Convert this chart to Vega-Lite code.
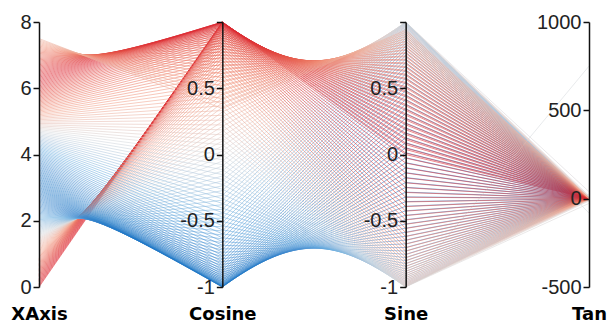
{
"$schema": "https://vega.github.io/schema/vega-lite/v6.json",
"width": 550, "height": 265,
"autosize": {"type": "none"},
"padding": {"left": 39, "top": 22, "right": 21, "bottom": 40},
"background": "white",
"config": {"view": {"stroke": null}, "axis": {"grid": false}},
"data": {"values": [
{"XAxis":0,"Cosine":1,"Sine":0,"Tan":0.5},
{"XAxis":0.0377,"Cosine":0.9993,"Sine":0.0377,"Tan":0.538},
{"XAxis":0.0754,"Cosine":0.9972,"Sine":0.0753,"Tan":0.576},
{"XAxis":0.1131,"Cosine":0.9936,"Sine":0.1128,"Tan":0.614},
{"XAxis":0.1508,"Cosine":0.9887,"Sine":0.1502,"Tan":0.652},
{"XAxis":0.1884,"Cosine":0.9823,"Sine":0.1873,"Tan":0.691},
{"XAxis":0.2261,"Cosine":0.9745,"Sine":0.2242,"Tan":0.730},
{"XAxis":0.2638,"Cosine":0.9654,"Sine":0.2608,"Tan":0.770},
{"XAxis":0.3015,"Cosine":0.9549,"Sine":0.2970,"Tan":0.811},
{"XAxis":0.3392,"Cosine":0.9430,"Sine":0.3327,"Tan":0.853},
{"XAxis":0.3769,"Cosine":0.9298,"Sine":0.3680,"Tan":0.896},
{"XAxis":0.4146,"Cosine":0.9153,"Sine":0.4028,"Tan":0.940},
{"XAxis":0.4523,"Cosine":0.8995,"Sine":0.4370,"Tan":0.986},
{"XAxis":0.4899,"Cosine":0.8824,"Sine":0.4706,"Tan":1.033},
{"XAxis":0.5276,"Cosine":0.8640,"Sine":0.5035,"Tan":1.083},
{"XAxis":0.5653,"Cosine":0.8444,"Sine":0.5357,"Tan":1.134},
{"XAxis":0.6030,"Cosine":0.8236,"Sine":0.5671,"Tan":1.189},
{"XAxis":0.6407,"Cosine":0.8017,"Sine":0.5978,"Tan":1.246},
{"XAxis":0.6784,"Cosine":0.7786,"Sine":0.6275,"Tan":1.306},
{"XAxis":0.7161,"Cosine":0.7544,"Sine":0.6564,"Tan":1.370},
{"XAxis":0.7538,"Cosine":0.7291,"Sine":0.6844,"Tan":1.439},
{"XAxis":0.7915,"Cosine":0.7028,"Sine":0.7114,"Tan":1.512},
{"XAxis":0.8291,"Cosine":0.6755,"Sine":0.7374,"Tan":1.592},
{"XAxis":0.8668,"Cosine":0.6472,"Sine":0.7623,"Tan":1.678},
{"XAxis":0.9045,"Cosine":0.6181,"Sine":0.7861,"Tan":1.772},
{"XAxis":0.9422,"Cosine":0.5880,"Sine":0.8089,"Tan":1.876},
{"XAxis":0.9799,"Cosine":0.5571,"Sine":0.8304,"Tan":1.991},
{"XAxis":1.0176,"Cosine":0.5254,"Sine":0.8508,"Tan":2.119},
{"XAxis":1.0553,"Cosine":0.4930,"Sine":0.8700,"Tan":2.265},
{"XAxis":1.0930,"Cosine":0.4599,"Sine":0.8880,"Tan":2.431},
{"XAxis":1.1307,"Cosine":0.4261,"Sine":0.9047,"Tan":2.623},
{"XAxis":1.1683,"Cosine":0.3917,"Sine":0.9201,"Tan":2.849},
{"XAxis":1.2060,"Cosine":0.3567,"Sine":0.9342,"Tan":3.119},
{"XAxis":1.2437,"Cosine":0.3213,"Sine":0.9470,"Tan":3.448},
{"XAxis":1.2814,"Cosine":0.2854,"Sine":0.9584,"Tan":3.859},
{"XAxis":1.3191,"Cosine":0.2491,"Sine":0.9685,"Tan":4.389},
{"XAxis":1.3568,"Cosine":0.2124,"Sine":0.9772,"Tan":5.101},
{"XAxis":1.3945,"Cosine":0.1754,"Sine":0.9845,"Tan":6.112},
{"XAxis":1.4322,"Cosine":0.1382,"Sine":0.9904,"Tan":7.667},
{"XAxis":1.4698,"Cosine":0.1008,"Sine":0.9949,"Tan":10.37},
{"XAxis":1.5075,"Cosine":0.0632,"Sine":0.9980,"Tan":16.29},
{"XAxis":1.5452,"Cosine":0.0256,"Sine":0.9997,"Tan":39.60},
{"XAxis":1.5829,"Cosine":-0.0121,"Sine":0.9999,"Tan":-82.01},
{"XAxis":1.6206,"Cosine":-0.0498,"Sine":0.9988,"Tan":-19.56},
{"XAxis":1.6583,"Cosine":-0.0874,"Sine":0.9962,"Tan":-10.90},
{"XAxis":1.6960,"Cosine":-0.1249,"Sine":0.9922,"Tan":-7.446},
{"XAxis":1.7337,"Cosine":-0.1622,"Sine":0.9868,"Tan":-5.585},
{"XAxis":1.7714,"Cosine":-0.1992,"Sine":0.9800,"Tan":-4.419},
{"XAxis":1.8090,"Cosine":-0.2360,"Sine":0.9718,"Tan":-3.618},
{"XAxis":1.8467,"Cosine":-0.2725,"Sine":0.9622,"Tan":-3.036},
{"XAxis":1.8844,"Cosine":-0.3085,"Sine":0.9512,"Tan":-2.593},
{"XAxis":1.9221,"Cosine":-0.3441,"Sine":0.9389,"Tan":-2.237},
{"XAxis":1.9598,"Cosine":-0.3793,"Sine":0.9253,"Tan":-1.951},
{"XAxis":1.9975,"Cosine":-0.4139,"Sine":0.9103,"Tan":-1.705},
{"XAxis":2.0352,"Cosine":-0.4479,"Sine":0.8941,"Tan":-1.505},
{"XAxis":2.0729,"Cosine":-0.4812,"Sine":0.8766,"Tan":-1.322},
{"XAxis":2.1106,"Cosine":-0.5139,"Sine":0.8578,"Tan":-1.169},
{"XAxis":2.1482,"Cosine":-0.5459,"Sine":0.8379,"Tan":-1.035},
{"XAxis":2.1859,"Cosine":-0.5771,"Sine":0.8167,"Tan":-0.915},
{"XAxis":2.2236,"Cosine":-0.6074,"Sine":0.7944,"Tan":-0.808},
{"XAxis":2.2613,"Cosine":-0.6369,"Sine":0.7709,"Tan":-0.710},
{"XAxis":2.2990,"Cosine":-0.6655,"Sine":0.7464,"Tan":-0.621},
{"XAxis":2.3367,"Cosine":-0.6932,"Sine":0.7208,"Tan":-0.540},
{"XAxis":2.3744,"Cosine":-0.7199,"Sine":0.6941,"Tan":-0.464},
{"XAxis":2.4121,"Cosine":-0.7455,"Sine":0.6665,"Tan":-0.394},
{"XAxis":2.4497,"Cosine":-0.7701,"Sine":0.6380,"Tan":-0.328},
{"XAxis":2.4874,"Cosine":-0.7936,"Sine":0.6085,"Tan":-0.267},
{"XAxis":2.5251,"Cosine":-0.8159,"Sine":0.5782,"Tan":-0.209},
{"XAxis":2.5628,"Cosine":-0.8371,"Sine":0.5470,"Tan":-0.153},
{"XAxis":2.6005,"Cosine":-0.8572,"Sine":0.5151,"Tan":-0.101},
{"XAxis":2.6382,"Cosine":-0.8760,"Sine":0.4824,"Tan":-0.051},
{"XAxis":2.6759,"Cosine":-0.8935,"Sine":0.4491,"Tan":-0.003},
{"XAxis":2.7136,"Cosine":-0.9098,"Sine":0.4151,"Tan":0.044},
{"XAxis":2.7513,"Cosine":-0.9248,"Sine":0.3805,"Tan":0.089},
{"XAxis":2.7889,"Cosine":-0.9385,"Sine":0.3454,"Tan":0.132},
{"XAxis":2.8266,"Cosine":-0.9508,"Sine":0.3098,"Tan":0.174},
{"XAxis":2.8643,"Cosine":-0.9618,"Sine":0.2737,"Tan":0.215},
{"XAxis":2.9020,"Cosine":-0.9714,"Sine":0.2373,"Tan":0.256},
{"XAxis":2.9397,"Cosine":-0.9797,"Sine":0.2005,"Tan":0.295},
{"XAxis":2.9774,"Cosine":-0.9866,"Sine":0.1635,"Tan":0.334},
{"XAxis":3.0151,"Cosine":-0.9920,"Sine":0.1262,"Tan":0.373},
{"XAxis":3.0528,"Cosine":-0.9961,"Sine":0.0887,"Tan":0.411},
{"XAxis":3.0905,"Cosine":-0.9987,"Sine":0.0511,"Tan":0.449},
{"XAxis":3.1281,"Cosine":-0.9999,"Sine":0.0135,"Tan":0.487},
{"XAxis":3.1658,"Cosine":-0.9997,"Sine":-0.0242,"Tan":0.524},
{"XAxis":3.2035,"Cosine":-0.9981,"Sine":-0.0619,"Tan":0.562},
{"XAxis":3.2412,"Cosine":-0.9950,"Sine":-0.0995,"Tan":0.600},
{"XAxis":3.2789,"Cosine":-0.9906,"Sine":-0.1369,"Tan":0.638},
{"XAxis":3.3166,"Cosine":-0.9847,"Sine":-0.1741,"Tan":0.677},
{"XAxis":3.3543,"Cosine":-0.9775,"Sine":-0.2111,"Tan":0.716},
{"XAxis":3.3920,"Cosine":-0.9688,"Sine":-0.2478,"Tan":0.756},
{"XAxis":3.4296,"Cosine":-0.9588,"Sine":-0.2841,"Tan":0.796},
{"XAxis":3.4673,"Cosine":-0.9474,"Sine":-0.3200,"Tan":0.838},
{"XAxis":3.5050,"Cosine":-0.9347,"Sine":-0.3555,"Tan":0.880},
{"XAxis":3.5427,"Cosine":-0.9206,"Sine":-0.3905,"Tan":0.924},
{"XAxis":3.5804,"Cosine":-0.9053,"Sine":-0.4249,"Tan":0.969},
{"XAxis":3.6181,"Cosine":-0.8886,"Sine":-0.4587,"Tan":1.016},
{"XAxis":3.6558,"Cosine":-0.8707,"Sine":-0.4918,"Tan":1.065},
{"XAxis":3.6935,"Cosine":-0.8515,"Sine":-0.5243,"Tan":1.116},
{"XAxis":3.7312,"Cosine":-0.8312,"Sine":-0.5560,"Tan":1.169},
{"XAxis":3.7688,"Cosine":-0.8097,"Sine":-0.5869,"Tan":1.225},
{"XAxis":3.8065,"Cosine":-0.7870,"Sine":-0.6170,"Tan":1.284},
{"XAxis":3.8442,"Cosine":-0.7632,"Sine":-0.6462,"Tan":1.347},
{"XAxis":3.8819,"Cosine":-0.7383,"Sine":-0.6745,"Tan":1.414},
{"XAxis":3.9196,"Cosine":-0.7123,"Sine":-0.7019,"Tan":1.485},
{"XAxis":3.9573,"Cosine":-0.6854,"Sine":-0.7282,"Tan":1.563},
{"XAxis":3.9950,"Cosine":-0.6574,"Sine":-0.7535,"Tan":1.646},
{"XAxis":4.0327,"Cosine":-0.6286,"Sine":-0.7778,"Tan":1.737},
{"XAxis":4.0704,"Cosine":-0.5988,"Sine":-0.8009,"Tan":1.837},
{"XAxis":4.1080,"Cosine":-0.5682,"Sine":-0.8229,"Tan":1.948},
{"XAxis":4.1457,"Cosine":-0.5368,"Sine":-0.8437,"Tan":2.072},
{"XAxis":4.1834,"Cosine":-0.5047,"Sine":-0.8633,"Tan":2.211},
{"XAxis":4.2211,"Cosine":-0.4718,"Sine":-0.8817,"Tan":2.369},
{"XAxis":4.2588,"Cosine":-0.4382,"Sine":-0.8989,"Tan":2.551},
{"XAxis":4.2965,"Cosine":-0.4040,"Sine":-0.9148,"Tan":2.764},
{"XAxis":4.3342,"Cosine":-0.3693,"Sine":-0.9293,"Tan":3.017},
{"XAxis":4.3719,"Cosine":-0.3340,"Sine":-0.9426,"Tan":3.322},
{"XAxis":4.4095,"Cosine":-0.2982,"Sine":-0.9545,"Tan":3.701},
{"XAxis":4.4472,"Cosine":-0.2621,"Sine":-0.9651,"Tan":4.183},
{"XAxis":4.4849,"Cosine":-0.2255,"Sine":-0.9742,"Tan":4.820},
{"XAxis":4.5226,"Cosine":-0.1886,"Sine":-0.9821,"Tan":5.706},
{"XAxis":4.5603,"Cosine":-0.1515,"Sine":-0.9885,"Tan":7.024},
{"XAxis":4.5980,"Cosine":-0.1142,"Sine":-0.9935,"Tan":9.203},
{"XAxis":4.6357,"Cosine":-0.0766,"Sine":-0.9971,"Tan":13.51},
{"XAxis":4.6734,"Cosine":-0.0390,"Sine":-0.9992,"Tan":26.11},
{"XAxis":4.7111,"Cosine":-0.0013,"Sine":-1.0,"Tan":750.3},
{"XAxis":4.7487,"Cosine":0.0363,"Sine":-0.9993,"Tan":-26.99},
{"XAxis":4.7864,"Cosine":0.0740,"Sine":-0.9973,"Tan":-12.98},
{"XAxis":4.8241,"Cosine":0.1115,"Sine":-0.9938,"Tan":-8.413},
{"XAxis":4.8618,"Cosine":0.1489,"Sine":-0.9889,"Tan":-6.143},
{"XAxis":4.8995,"Cosine":0.1860,"Sine":-0.9826,"Tan":-4.782},
{"XAxis":4.9372,"Cosine":0.2229,"Sine":-0.9748,"Tan":-3.873},
{"XAxis":4.9749,"Cosine":0.2595,"Sine":-0.9658,"Tan":-3.222},
{"XAxis":5.0126,"Cosine":0.2957,"Sine":-0.9553,"Tan":-2.731},
{"XAxis":5.0503,"Cosine":0.3315,"Sine":-0.9435,"Tan":-2.346},
{"XAxis":5.0879,"Cosine":0.3668,"Sine":-0.9303,"Tan":-2.036},
{"XAxis":5.1256,"Cosine":0.4016,"Sine":-0.9158,"Tan":-1.781},
{"XAxis":5.1633,"Cosine":0.4358,"Sine":-0.9000,"Tan":-1.565},
{"XAxis":5.2010,"Cosine":0.4694,"Sine":-0.8830,"Tan":-1.381},
{"XAxis":5.2387,"Cosine":0.5023,"Sine":-0.8647,"Tan":-1.221},
{"XAxis":5.2764,"Cosine":0.5346,"Sine":-0.8451,"Tan":-1.081},
{"XAxis":5.3141,"Cosine":0.5660,"Sine":-0.8244,"Tan":-0.956},
{"XAxis":5.3518,"Cosine":0.5967,"Sine":-0.8025,"Tan":-0.845},
{"XAxis":5.3894,"Cosine":0.6265,"Sine":-0.7794,"Tan":-0.744},
{"XAxis":5.4271,"Cosine":0.6554,"Sine":-0.7553,"Tan":-0.652},
{"XAxis":5.4648,"Cosine":0.6834,"Sine":-0.7300,"Tan":-0.568},
{"XAxis":5.5025,"Cosine":0.7104,"Sine":-0.7038,"Tan":-0.491},
{"XAxis":5.5402,"Cosine":0.7365,"Sine":-0.6765,"Tan":-0.419},
{"XAxis":5.5779,"Cosine":0.7614,"Sine":-0.6483,"Tan":-0.351},
{"XAxis":5.6156,"Cosine":0.7853,"Sine":-0.6191,"Tan":-0.288},
{"XAxis":5.6533,"Cosine":0.8081,"Sine":-0.5891,"Tan":-0.229},
{"XAxis":5.6910,"Cosine":0.8297,"Sine":-0.5582,"Tan":-0.173},
{"XAxis":5.7286,"Cosine":0.8501,"Sine":-0.5266,"Tan":-0.119},
{"XAxis":5.7663,"Cosine":0.8694,"Sine":-0.4942,"Tan":-0.068},
{"XAxis":5.8040,"Cosine":0.8874,"Sine":-0.4610,"Tan":-0.020},
{"XAxis":5.8417,"Cosine":0.9041,"Sine":-0.4273,"Tan":0.027},
{"XAxis":5.8794,"Cosine":0.9196,"Sine":-0.3929,"Tan":0.073},
{"XAxis":5.9171,"Cosine":0.9337,"Sine":-0.3580,"Tan":0.117},
{"XAxis":5.9548,"Cosine":0.9466,"Sine":-0.3225,"Tan":0.159},
{"XAxis":5.9925,"Cosine":0.9580,"Sine":-0.2867,"Tan":0.201},
{"XAxis":6.0302,"Cosine":0.9682,"Sine":-0.2503,"Tan":0.241},
{"XAxis":6.0678,"Cosine":0.9769,"Sine":-0.2137,"Tan":0.281},
{"XAxis":6.1055,"Cosine":0.9843,"Sine":-0.1767,"Tan":0.320},
{"XAxis":6.1432,"Cosine":0.9902,"Sine":-0.1395,"Tan":0.359},
{"XAxis":6.1809,"Cosine":0.9948,"Sine":-0.1021,"Tan":0.397},
{"XAxis":6.2186,"Cosine":0.9979,"Sine":-0.0646,"Tan":0.435},
{"XAxis":6.2563,"Cosine":0.9996,"Sine":-0.0269,"Tan":0.473},
{"XAxis":6.2940,"Cosine":0.9999,"Sine":0.0108,"Tan":0.511},
{"XAxis":6.3317,"Cosine":0.9988,"Sine":0.0485,"Tan":0.549},
{"XAxis":6.3693,"Cosine":0.9963,"Sine":0.0861,"Tan":0.586},
{"XAxis":6.4070,"Cosine":0.9923,"Sine":0.1235,"Tan":0.624},
{"XAxis":6.4447,"Cosine":0.9870,"Sine":0.1608,"Tan":0.663},
{"XAxis":6.4824,"Cosine":0.9802,"Sine":0.1979,"Tan":0.702},
{"XAxis":6.5201,"Cosine":0.9721,"Sine":0.2347,"Tan":0.741},
{"XAxis":6.5578,"Cosine":0.9625,"Sine":0.2712,"Tan":0.782},
{"XAxis":6.5955,"Cosine":0.9516,"Sine":0.3072,"Tan":0.823},
{"XAxis":6.6332,"Cosine":0.9394,"Sine":0.3429,"Tan":0.865},
{"XAxis":6.6709,"Cosine":0.9258,"Sine":0.3780,"Tan":0.908},
{"XAxis":6.7085,"Cosine":0.9109,"Sine":0.4126,"Tan":0.953},
{"XAxis":6.7462,"Cosine":0.8947,"Sine":0.4467,"Tan":0.999},
{"XAxis":6.7839,"Cosine":0.8772,"Sine":0.4801,"Tan":1.047},
{"XAxis":6.8216,"Cosine":0.8585,"Sine":0.5128,"Tan":1.097},
{"XAxis":6.8593,"Cosine":0.8386,"Sine":0.5448,"Tan":1.150},
{"XAxis":6.8970,"Cosine":0.8175,"Sine":0.5760,"Tan":1.205},
{"XAxis":6.9347,"Cosine":0.7952,"Sine":0.6064,"Tan":1.263},
{"XAxis":6.9724,"Cosine":0.7718,"Sine":0.6359,"Tan":1.324},
{"XAxis":7.0101,"Cosine":0.7473,"Sine":0.6645,"Tan":1.389},
{"XAxis":7.0477,"Cosine":0.7217,"Sine":0.6922,"Tan":1.459},
{"XAxis":7.0854,"Cosine":0.6951,"Sine":0.7189,"Tan":1.534},
{"XAxis":7.1231,"Cosine":0.6675,"Sine":0.7446,"Tan":1.615},
{"XAxis":7.1608,"Cosine":0.6390,"Sine":0.7692,"Tan":1.704},
{"XAxis":7.1985,"Cosine":0.6096,"Sine":0.7928,"Tan":1.801},
{"XAxis":7.2362,"Cosine":0.5792,"Sine":0.8152,"Tan":1.907},
{"XAxis":7.2739,"Cosine":0.5481,"Sine":0.8364,"Tan":2.026},
{"XAxis":7.3116,"Cosine":0.5162,"Sine":0.8565,"Tan":2.159},
{"XAxis":7.3492,"Cosine":0.4836,"Sine":0.8753,"Tan":2.310},
{"XAxis":7.3869,"Cosine":0.4503,"Sine":0.8929,"Tan":2.483},
{"XAxis":7.4246,"Cosine":0.4163,"Sine":0.9092,"Tan":2.684},
{"XAxis":7.4623,"Cosine":0.3817,"Sine":0.9243,"Tan":2.921},
{"XAxis":7.5,"Cosine":0.3466,"Sine":0.9380,"Tan":3.206}
]},
"layer": [
{
"transform": [
{"fold": ["XAxis", "Cosine", "Sine", "Tan"], "as": ["key", "value"]},
{"calculate": "datum.key === 'XAxis' ? datum.value / 8 : datum.key === 'Tan' ? (datum.value + 500) / 1500 : (datum.value + 1) / 2", "as": "pos"},
{"calculate": "indexof(['XAxis','Cosine','Sine','Tan'], datum.key)", "as": "axisOrder"}
],
"mark": {"type": "line", "strokeWidth": 1, "opacity": 0.55},
"encoding": {
"x": {"field": "key", "type": "nominal", "sort": ["XAxis", "Cosine", "Sine", "Tan"], "scale": {"type": "point", "padding": 0},
"axis": {"title": null, "domain": false, "ticks": false, "labelAngle": 0, "labelFont": "DejaVu Sans", "labelFontWeight": "bold", "labelFontSize": 18, "labelColor": "black", "labelPadding": 18}},
"y": {"field": "pos", "type": "quantitative", "scale": {"domain": [0, 1]}, "axis": null},
"detail": {"field": "XAxis", "type": "nominal"},
"order": {"field": "axisOrder"},
"color": {"field": "Cosine", "type": "quantitative", "scale": {"domain": [-1, -0.5, 0, 0.5, 1], "range": ["#2079c7", "#6db0e0", "#d6d9dc", "#f2a088", "#dc2630"], "interpolate": "lab"}, "legend": null}
}
},
{
"mark": {"type": "tick", "opacity": 0},
"encoding": {"y": {"field": "XAxis", "type": "quantitative", "scale": {"domain": [0, 8], "nice": false},
"axis": {"orient": "left", "offset": 0, "zindex": 1, "values": [0, 2, 4, 6, 8], "format": "d", "title": null, "labelFont": "Liberation Sans", "labelFontSize": 20, "labelColor": "#222", "labelPadding": 2, "tickSize": 6, "tickWidth": 1.5, "tickColor": "#111", "domainColor": "#111", "domainWidth": 1.5}}}
},
{
"mark": {"type": "tick", "opacity": 0},
"encoding": {"y": {"field": "Cosine", "type": "quantitative", "scale": {"domain": [-1, 1], "nice": false},
"axis": {"orient": "left", "offset": -183.33, "zindex": 1, "values": [-1, -0.5, 0, 0.5, 1], "format": ".1~f", "labelExpr": "datum.value == 1 ? '' : replace(datum.label, '\u2212', '-')", "title": null, "labelFont": "Liberation Sans", "labelFontSize": 20, "labelColor": "#222", "labelPadding": 2, "tickSize": 6, "tickWidth": 1.5, "tickColor": "#111", "domainColor": "#111", "domainWidth": 1.5}}}
},
{
"mark": {"type": "tick", "opacity": 0},
"encoding": {"y": {"field": "Sine", "type": "quantitative", "scale": {"domain": [-1, 1], "nice": false},
"axis": {"orient": "left", "offset": -366.67, "zindex": 1, "values": [-1, -0.5, 0, 0.5, 1], "format": ".1~f", "labelExpr": "datum.value == 1 ? '' : replace(datum.label, '\u2212', '-')", "title": null, "labelFont": "Liberation Sans", "labelFontSize": 20, "labelColor": "#222", "labelPadding": 2, "tickSize": 6, "tickWidth": 1.5, "tickColor": "#111", "domainColor": "#111", "domainWidth": 1.5}}}
},
{
"mark": {"type": "tick", "opacity": 0},
"encoding": {"y": {"field": "Tan", "type": "quantitative", "scale": {"domain": [-500, 1000], "nice": false},
"axis": {"orient": "left", "offset": -550, "zindex": 1, "values": [-500, 0, 500, 1000], "format": "d", "labelExpr": "replace(datum.label, '\u2212', '-')", "title": null, "labelFont": "Liberation Sans", "labelFontSize": 20, "labelColor": "#222", "labelPadding": 2, "tickSize": 6, "tickWidth": 1.5, "tickColor": "#111", "domainColor": "#111", "domainWidth": 1.5}}}
}
],
"resolve": {"scale": {"y": "independent"}}
}
